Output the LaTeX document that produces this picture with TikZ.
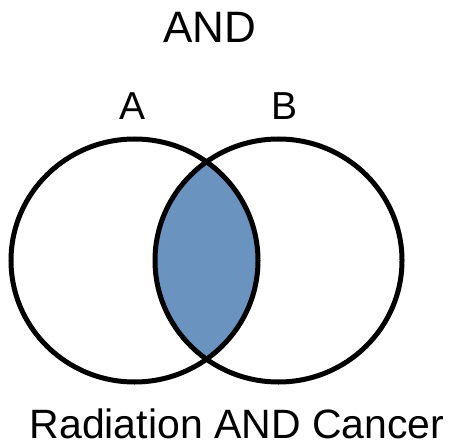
\documentclass[tikz,border=0pt]{standalone}
\usepackage{fontspec}
\setmainfont{Liberation Sans}
\usepackage{xcolor}
\usetikzlibrary{positioning}
\definecolor{lensblue}{HTML}{6A93C0}

\begin{document}
\begin{tikzpicture}[x=1pt,y=-1pt,
  ring/.style={draw=black,line width=5pt},
  lab/.style={anchor=base,inner sep=0pt,font=\fontsize{39}{39}\selectfont},
  headline/.style={anchor=base,inner sep=0pt,font=\fontsize{44}{44}\selectfont}]
  \useasboundingbox (0,0) rectangle (454,443);
  \coordinate (ca) at (134.5,260.5);
  \coordinate (cb) at (278.5,260.5);
  % shaded overlap of the two sets
  \begin{scope}
    \clip (ca) ellipse [x radius=123.5,y radius=121.5];
    \fill[lensblue] (cb) ellipse [x radius=123.5,y radius=121.5];
  \end{scope}
  \draw[ring] (ca) ellipse [x radius=123.5,y radius=121.5];
  \draw[ring] (cb) ellipse [x radius=123.5,y radius=121.5];
  \node[headline] (title) at (209.5,43) {AND};
  \node[lab] (seta) at (132.5,120) {A};
  \node[lab] (setb) at (285,120) {B};
  \node[anchor=base,inner sep=0pt,font=\fontsize{41}{41}\selectfont] (query) at (237,438.5) {Radiation AND Cancer};
\end{tikzpicture}
\end{document}
